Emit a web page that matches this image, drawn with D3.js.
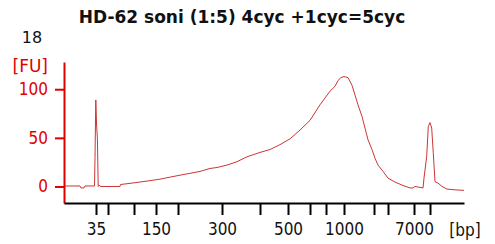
<!DOCTYPE html>
<html>
<head>
<meta charset="utf-8">
<script src="https://cdn.jsdelivr.net/npm/d3@7"></script>
<style>
  body { margin: 0; background: #fff; }
  text { font-family: "DejaVu Sans Condensed", "DejaVu Sans", sans-serif; }
</style>
</head>
<body>
<div id="chart"></div>
<script>
  // ladder sizes and their migration times (seconds)
  var ladderBp = [35, 50, 100, 150, 200, 300, 400, 500, 600, 700, 1000, 2000, 3000, 7000, 10380];
  var ladderTime = [46.4, 48.8, 54.0, 58.4, 62.8, 71.6, 79.2, 84.8, 89.2, 92.4, 96.0, 102.0, 104.8, 110.0, 113.2];
  var labeledBp = [35, 150, 300, 500, 1000, 7000];
  var yTicks = [0, 50, 100];

  // electropherogram trace: time (s) and fluorescence (FU)
  var traceTime = [40.0, 43.2, 43.4, 44.0, 44.2, 46.1, 46.2, 46.36, 46.52, 46.68, 46.84, 47.08, 47.28,
      51.2, 51.3, 54.4, 57.2, 59.2, 61.6, 63.6, 65.2, 67.2, 69.2, 70.6, 72.6, 74.6, 76.6,
      79.2, 81.2, 83.2, 85.2, 87.2, 89.2, 91.2, 93.2, 94.2, 94.8, 95.4, 96.0, 96.8, 97.6,
      98.2, 98.8, 99.6, 100.2, 100.8, 101.6, 102.2, 102.8, 103.8, 104.8, 106.2, 107.8, 109.2,
      109.8, 110.2, 111.8, 112.0, 112.54, 112.86, 113.2, 113.54, 113.86, 114.2, 114.8, 115.6,
      116.6, 118.2, 120.0];
  var traceFU = [0.5, 0.5, -1.5, -1.5, 0.5, 0.5, 30, 89, 62, 50, 0, 1.5, 0,
      0, 2, 4, 6, 7.5, 10, 12, 13.5, 15.5, 18.5, 19.5, 22, 25.5, 30.5,
      35, 38, 43, 49, 58, 68, 84, 98, 103, 109, 112, 113, 112, 104,
      94, 84, 72, 60, 48, 38, 29, 22, 15.5, 8.6, 4.5, 1, -1.5,
      -1.5, 0, -1.5, 8.6, 31, 61.6, 65.7, 60, 34, 5, 3.5, 0,
      -2.7, -3.5, -4];

  var svg = d3.select("#chart")
      .append("svg")
      .attr("width", 495)
      .attr("height", 244);

  var x = d3.scaleLinear()
      .domain([40, 120])
      .range([64, 464]);

  var y = d3.scaleLinear()
      .domain([-17, 128])
      .range([203, 62]);

  // title
  svg.append("text")
      .attr("x", 242)
      .attr("y", 23)
      .attr("text-anchor", "middle")
      .attr("font-weight", "bold")
      .attr("font-size", 17)
      .attr("fill", "#111")
      .style("font-family", "'DejaVu Sans', sans-serif")
      .text("HD-62 soni (1:5) 4cyc +1cyc=5cyc");

  svg.append("text")
      .attr("x", 32)
      .attr("y", 43)
      .attr("text-anchor", "middle")
      .attr("font-size", 16)
      .attr("fill", "#111")
      .style("font-family", "'DejaVu Sans', sans-serif")
      .text("18");

  svg.append("text")
      .attr("x", 48)
      .attr("y", 72)
      .attr("text-anchor", "end")
      .attr("font-size", 17)
      .attr("fill", "#e00000")
      .style("font-family", "'DejaVu Sans', sans-serif")
      .text("[FU]");

  // trace
  var line = d3.line()
      .x(function (d, i) { return x(traceTime[i]); })
      .y(function (d) { return y(d); });

  svg.append("path")
      .datum(traceFU)
      .attr("fill", "none")
      .attr("stroke", "#cc3535")
      .attr("stroke-width", 1)
      .attr("d", line);

  // Y axis
  var yAxis = svg.append("g")
      .attr("transform", "translate(64,0)")
      .call(d3.axisLeft(y).tickValues(yTicks).tickSize(9).tickPadding(7).tickSizeOuter(0));
  yAxis.select(".domain").attr("stroke", "#e00000").attr("stroke-width", 2);
  yAxis.selectAll(".tick line").attr("stroke", "#e00000").attr("stroke-width", 2);
  yAxis.selectAll(".tick text")
      .attr("fill", "#e00000")
      .attr("font-size", 17)
      .attr("font-family", null);

  // X axis
  var xAxis = svg.append("g")
      .attr("transform", "translate(0,203)")
      .call(d3.axisBottom(x)
          .tickValues(ladderTime)
          .tickSize(12)
          .tickPadding(8)
          .tickSizeOuter(0)
          .tickFormat(function (d, i) {
              return labeledBp.indexOf(ladderBp[i]) >= 0 ? ladderBp[i] : "";
          }));
  xAxis.select(".domain").attr("stroke", "#000").attr("stroke-width", 2);
  xAxis.selectAll(".tick line").attr("stroke", "#000").attr("stroke-width", 2);
  xAxis.selectAll(".tick text")
      .attr("fill", "#111")
      .attr("font-size", 17)
      .attr("font-family", null);

  svg.append("text")
      .attr("x", 465)
      .attr("y", 236)
      .attr("text-anchor", "middle")
      .attr("font-size", 17)
      .attr("fill", "#111")
      .text("[bp]");
</script>
</body>
</html>
